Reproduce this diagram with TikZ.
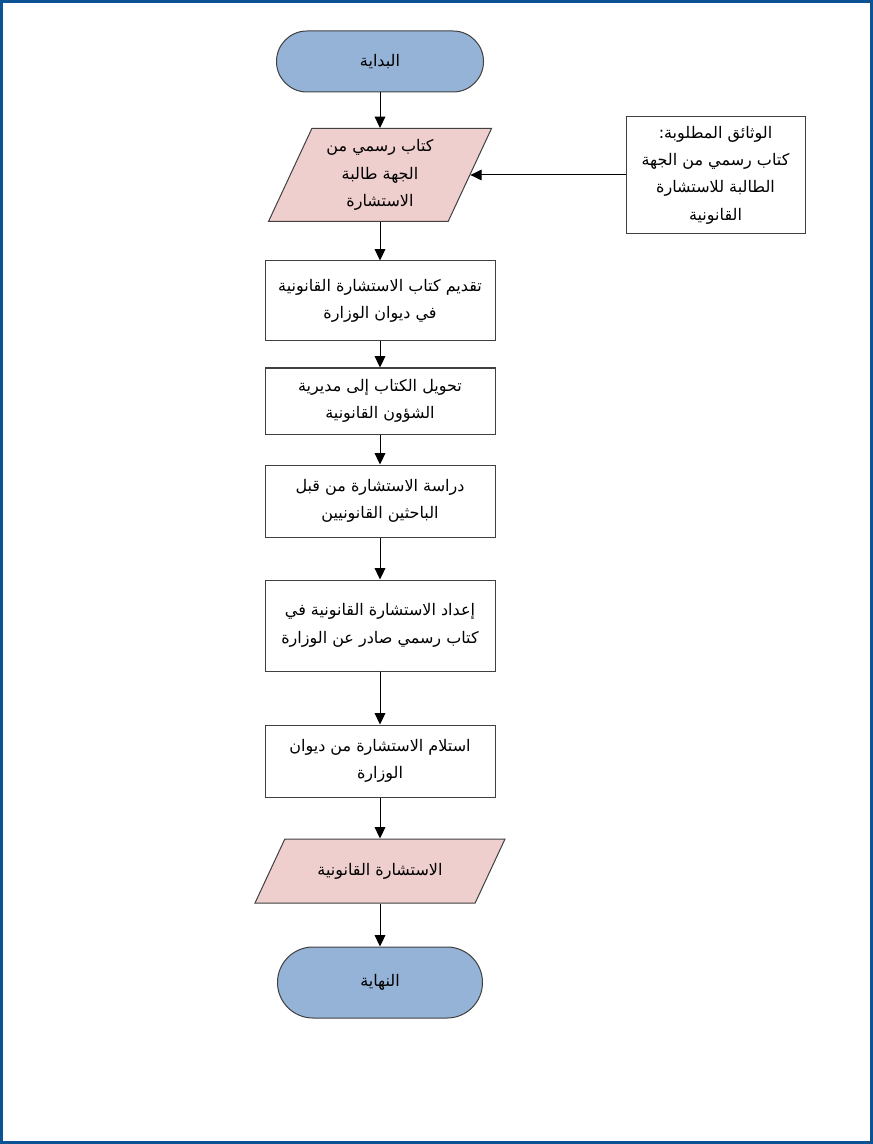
\documentclass[tikz,border=0pt]{standalone}
\usepackage{fontspec}
\setmainfont{DejaVu Sans}
\newfontfamily\arabicfont[Script=Arabic]{DejaVu Sans}
\TeXXeTstate=1
\usetikzlibrary{shapes.geometric,arrows.meta}
\definecolor{termblue}{HTML}{95B3D7}
\definecolor{parapink}{HTML}{EFCECE}
\definecolor{edgegray}{HTML}{404040}
\definecolor{frameblue}{HTML}{0B5394}
\begin{document}
\begin{tikzpicture}[x=0.75pt,y=-0.75pt,
  every node/.style={font={\arabicfont\fontsize{12}{20.5}\selectfont}, align=center, inner sep=0pt, text=black},
  term/.style={draw=edgegray, line width=0.75pt, fill=termblue, minimum width=155.25pt},
  stepbox/.style={draw=edgegray, line width=0.75pt, fill=white, minimum width=172.5pt},
  iobox/.style={trapezium, trapezium left angle=65, trapezium right angle=115, trapezium stretches body,
    draw=edgegray, line width=0.75pt, fill=parapink},
  arr/.style={draw=black, line width=0.75pt, -{Triangle[length=8.5pt,width=8pt]}}
]
\useasboundingbox (0,0) rectangle (873,1144);
\draw[frameblue, line width=2pt] (1.3,1.3) rectangle (871.7,1142.7);

\node[term, minimum height=45.75pt, rounded corners=22.8pt] (start) at (380,61.5) {\beginR البداية\endR};
\node[iobox, minimum width=167.25pt, inner ysep=34.875pt] (p1) at (380,175) {};
\node (p1text) at (p1.center)
  {\beginR كتاب رسمي من\endR\\\beginR الجهة طالبة\endR\\\beginR الاستشارة\endR};
\node[draw=edgegray, line width=0.75pt, fill=white, minimum width=134.25pt, minimum height=87.75pt] (docs) at (715.5,175)
  {\beginR الوثائق المطلوبة:\endR\\\beginR كتاب رسمي من الجهة\endR\\\beginR الطالبة للاستشارة\endR\\\beginR القانونية\endR};
\node[stepbox, minimum height=60pt] (s1) at (380,301)
  {\beginR تقديم كتاب الاستشارة القانونية\endR\\\beginR في ديوان الوزارة\endR};
\node[stepbox, minimum height=49.5pt] (s2) at (380,401)
  {\beginR تحويل الكتاب إلى مديرية\endR\\\beginR الشؤون القانونية\endR};
\node[stepbox, minimum height=54pt] (s3) at (380,501)
  {\beginR دراسة الاستشارة من قبل\endR\\\beginR الباحثين القانونيين\endR};
\node[stepbox, minimum height=68.25pt] (s4) at (380,625.5)
  {\beginR إعداد الاستشارة القانونية في\endR\\\beginR كتاب رسمي صادر عن الوزارة\endR};
\node[stepbox, minimum height=54pt] (s5) at (380,761)
  {\beginR استلام الاستشارة من ديوان\endR\\\beginR الوزارة\endR};
\node[iobox, minimum width=187.5pt, inner ysep=24pt] (p2) at (380,871) {};
\node (p2text) at (p2.center) {\beginR الاستشارة القانونية\endR};
\node[term, minimum width=153.75pt, minimum height=53.25pt, rounded corners=26.6pt] (end) at (380,982.5) {\beginR النهاية\endR};

\draw[arr] (start) -- (p1);
\draw[arr] (docs.west) -- (p1.east);
\draw[arr] (p1) -- (s1);
\draw[arr] (s1) -- (s2);
\draw[arr] (s2) -- (s3);
\draw[arr] (s3) -- (s4);
\draw[arr] (s4) -- (s5);
\draw[arr] (s5) -- (p2);
\draw[arr] (p2) -- (end);
\end{tikzpicture}
\end{document}
